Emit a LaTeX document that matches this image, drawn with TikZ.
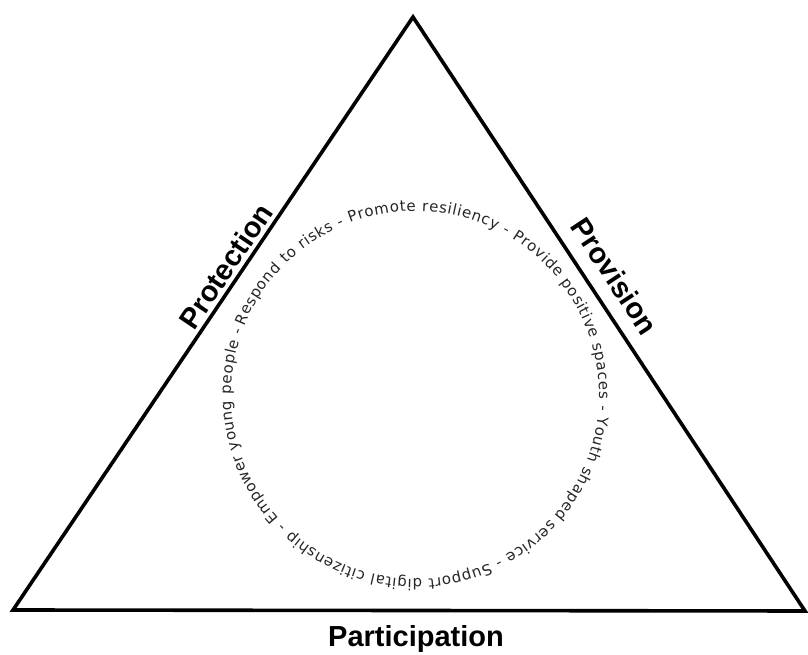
\documentclass[tikz,border=0pt]{standalone}
\usepackage{fontspec}
\usepackage{xcolor}
\usetikzlibrary{decorations.text,calc}
\newfontfamily\sidefont{Liberation Sans}
\newfontfamily\ringfont{DejaVu Sans}
\definecolor{ringgray}{HTML}{262626}
\tikzset{
	side/.style={font=\sidefont\bfseries\fontsize{29}{34}\selectfont, inner sep=0pt},
}

\begin{document}
\begin{tikzpicture}[x=1pt, y=1pt]

	\useasboundingbox (0, 0) rectangle (808, 655);

	\coordinate (apex) at (413, 638);
	\coordinate (lcorner) at (13, 45);
	\coordinate (rcorner) at (805, 44);
	\coordinate (hub) at (415, 260);

	\draw [line width=3.6pt] (lcorner) -- (apex) -- (rcorner) -- cycle;

	\path (lcorner) -- (apex) node [side, sloped, pos=0.565, above=5pt] (protection) {Protection};
	\path (apex) -- (rcorner) node [side, sloped, pos=0.46, above=15pt] (provision) {Provision};
	\node [side, anchor=base] (participation) at (416, 8) {Participation};

	% text round the ring, clockwise (the gap at the end stands for the last space)
	\path [decorate, decoration={text along path, text align=fit to path,
		text={|\ringfont\fontsize{15}{18}\selectfont\color{ringgray}|Respond to risks - Promote resiliency - Provide positive spaces - Youth shaped service - Support digital citizenship - Empower young people -}}]
		($(hub) + (158:184)$) arc [start angle=158, end angle=-200.5, radius=184];

\end{tikzpicture}
\end{document}
